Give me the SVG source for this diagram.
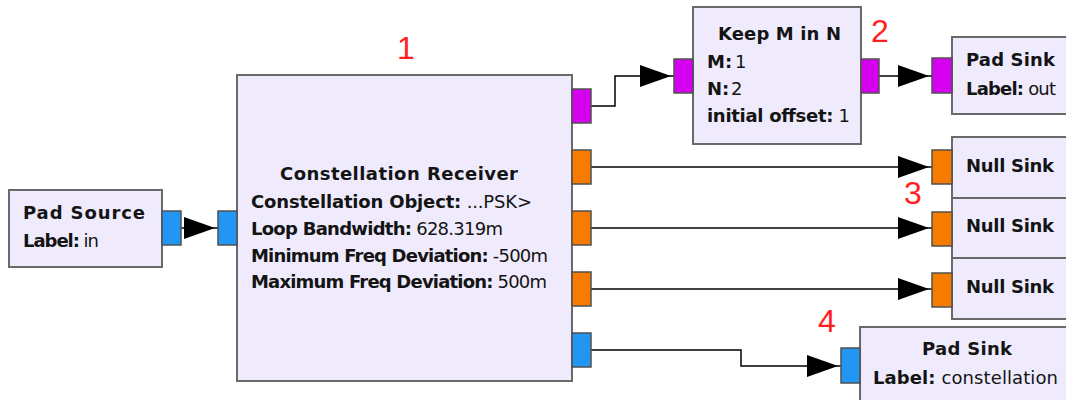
<svg xmlns="http://www.w3.org/2000/svg" width="1066" height="400" viewBox="0 0 1066 400">
<style>
.blk{fill:#efebfd;stroke:#6a6a6a;stroke-width:2}
.p{stroke:#505050;stroke-width:1.5}
.cx{fill:#2196f3}
.fl{fill:#f57c00}
.by{fill:#d500f0}
text{font-family:"DejaVu Sans",Verdana,sans-serif;font-size:18px;fill:#141414}
.t{font-weight:bold;text-anchor:middle}
.b{font-weight:bold}
.num{font-family:"Liberation Sans",Arial,sans-serif;font-size:32px;fill:#ff1f1f;text-anchor:middle}
.w{fill:none;stroke:#000;stroke-width:1.5}
</style>
<defs>
<marker id="ah" markerUnits="userSpaceOnUse" markerWidth="36" markerHeight="24" refX="34" refY="11" orient="auto">
<path d="M0,0 L31,11 L0,22 Z" fill="#000"/>
</marker>
</defs>
<rect width="1066" height="400" fill="#fff"/>
<g id="connectors">
<path class="w" d="M181,228 H218" marker-end="url(#ah)"/>
<path class="w" d="M591,106 H615 V76 H674" marker-end="url(#ah)"/>
<path class="w" d="M879,76 H932" marker-end="url(#ah)"/>
<path class="w" d="M591,167 H932" marker-end="url(#ah)"/>
<path class="w" d="M591,228 H932" marker-end="url(#ah)"/>
<path class="w" d="M591,289 H932" marker-end="url(#ah)"/>
<path class="w" d="M591,350 H741 V366 H841" marker-end="url(#ah)"/>
</g>
<g id="pad_source">
<rect class="blk" x="9" y="190" width="153" height="77"/>
<rect class="p cx" x="162" y="211" width="19" height="34"/>
<text class="t" x="84" y="219" textLength="122">Pad Source</text>
<text x="23" y="247" textLength="76"><tspan class="b">Label:</tspan> in</text>
</g>
<g id="constellation_receiver">
<rect class="blk" x="237" y="75" width="335" height="306"/>
<rect class="p cx" x="218" y="211" width="19" height="34"/>
<rect class="p by" x="572" y="89" width="19" height="34"/>
<rect class="p fl" x="572" y="150" width="19" height="34"/>
<rect class="p fl" x="572" y="211" width="19" height="34"/>
<rect class="p fl" x="572" y="272" width="19" height="34"/>
<rect class="p cx" x="572" y="333" width="19" height="34"/>
<text class="t" x="399" y="180" textLength="238">Constellation Receiver</text>
<text x="251" y="208" textLength="281"><tspan class="b">Constellation Object:</tspan> ...PSK&gt;</text>
<text x="251" y="235" textLength="252"><tspan class="b">Loop Bandwidth:</tspan> 628.319m</text>
<text x="251" y="262" textLength="297"><tspan class="b">Minimum Freq Deviation:</tspan> -500m</text>
<text x="251" y="288" textLength="296"><tspan class="b">Maximum Freq Deviation:</tspan> 500m</text>
</g>
<g id="keep_m_in_n">
<rect class="blk" x="693" y="7" width="168" height="137"/>
<rect class="p by" x="674" y="59" width="19" height="34"/>
<rect class="p by" x="861" y="59" width="18" height="34"/>
<text class="t" x="779.5" y="40" textLength="123">Keep M in N</text>
<text x="707" y="68"><tspan class="b">M:</tspan><tspan x="735">1</tspan></text>
<text x="707" y="95"><tspan class="b">N:</tspan><tspan x="731">2</tspan></text>
<text x="707" y="122" textLength="143"><tspan class="b">initial offset:</tspan> 1</text>
</g>
<g id="pad_sink_out">
<rect class="blk" x="952" y="37" width="124" height="77"/>
<rect class="p by" x="932" y="58" width="20" height="35"/>
<text class="t" x="1010.5" y="66" textLength="89">Pad Sink</text>
<text x="966" y="95" textLength="90"><tspan class="b">Label:</tspan> out</text>
</g>
<g id="null_sink_1">
<rect class="blk" x="952" y="137" width="124" height="61"/>
<rect class="p fl" x="932" y="150" width="20" height="34"/>
<text class="t" x="1010" y="172" textLength="88">Null Sink</text>
</g>
<g id="null_sink_2">
<rect class="blk" x="952" y="198" width="124" height="60"/>
<rect class="p fl" x="932" y="212" width="20" height="34"/>
<text class="t" x="1010" y="232" textLength="88">Null Sink</text>
</g>
<g id="null_sink_3">
<rect class="blk" x="952" y="258" width="124" height="61"/>
<rect class="p fl" x="932" y="273" width="20" height="34"/>
<text class="t" x="1010" y="293" textLength="88">Null Sink</text>
</g>
<g id="pad_sink_constellation">
<rect class="blk" x="860" y="327" width="216" height="85"/>
<rect class="p cx" x="841" y="348" width="19" height="35"/>
<text class="t" x="967" y="355" textLength="90">Pad Sink</text>
<text x="873" y="384" textLength="185"><tspan class="b">Label:</tspan> constellation</text>
</g>
<g id="labels">
<text class="num" x="406" y="59">1</text>
<text class="num" x="880" y="42">2</text>
<text class="num" x="913" y="204">3</text>
<text class="num" x="827" y="332">4</text>
</g>
</svg>
